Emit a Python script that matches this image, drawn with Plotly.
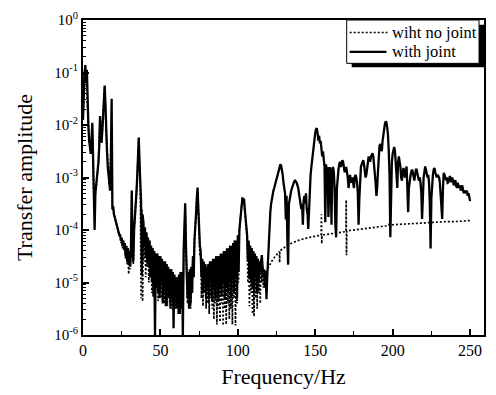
import plotly.graph_objects as go

# ---------------- data (log10 of transfer amplitude) -------------
# "with joint": sampled every 0.5 Hz from 0 to 250 Hz
freq_joint = [i * 0.5 for i in range(501)]
logamp_joint = [
    -1.9, -1.3, -1.0, -0.86, -1.2, -0.95, -1.8, -2.05, -2.3, -2.45,      # 0-4.5
    -2.55, -2.3, -1.96, -2.6, -3.5, -4.0, -3.3, -3.15, -3.05, -2.9,      # 5-9.5
    -2.7, -2.4, -1.83, -2.2, -2.33, -2.1, -1.8, -1.5, -1.25, -1.6,       # 10-14.5
    -2.2, -2.5, -2.8, -3.0, -3.15, -3.25, -2.6, -1.5, -3.6, -3.55,       # 15-19.5
    -3.7, -3.75, -3.85, -3.9, -3.95, -4.0, -4.05, -4.1, -4.1, -4.2,      # 20-24.5
    -4.15, -4.3, -4.2, -4.35, -4.25, -4.5, -4.3, -4.6, -4.35, -4.66,     # 25-29.5
    -4.4, -4.7, -4.3, -3.25, -4.4, -4.6, -4.0, -3.8, -3.6, -3.3,         # 30-34.5
    -3.0, -2.6, -2.24, -2.7, -3.2, -3.45, -4.84, -3.7, -3.85, -4.3,      # 35-39.5
    -3.95, -4.5, -4.05, -4.6, -4.15, -4.7, -4.2, -4.9, -4.3, -5.0,       # 40-44.5
    -4.35, -5.27, -4.4, -6.0, -4.45, -5.1, -4.45, -5.2, -4.5, -5.3,      # 45-49.5
    -4.5, -5.0, -4.55, -5.4, -4.6, -5.2, -4.6, -5.45, -4.65, -5.1,       # 50-54.5
    -4.7, -5.3, -4.75, -5.5, -4.75, -5.2, -4.8, -5.87, -4.85, -5.3,      # 55-59.5
    -4.9, -5.5, -4.9, -5.35, -4.85, -5.6, -4.8, -5.3, -4.8, -6.0,        # 60-64.5
    -4.4, -3.8, -3.49, -4.3, -4.7, -5.3, -4.8, -5.5, -4.75, -5.4,        # 65-69.5
    -4.7, -5.2, -4.5, -4.9, -4.2, -4.0, -3.7, -3.4, -3.19, -3.6,         # 70-74.5
    -4.0, -4.3, -4.4, -4.9, -4.55, -5.2, -4.6, -5.0, -4.65, -5.3,        # 75-79.5
    -4.7, -5.1, -4.65, -5.3, -4.6, -5.0, -4.6, -5.35, -4.55, -5.1,       # 80-84.5
    -4.55, -5.3, -4.5, -5.0, -4.5, -5.35, -4.5, -5.1, -4.45, -5.25,      # 85-89.5
    -4.45, -5.0, -4.4, -5.3, -4.4, -5.1, -4.35, -5.2, -4.35, -5.0,       # 90-94.5
    -4.3, -5.3, -4.3, -4.9, -4.25, -5.2, -4.2, -4.9, -4.2, -5.3,         # 95-99.5
    -4.1, -4.8, -4.0, -3.8, -3.6, -3.45, -3.38, -3.5, -3.4, -3.6,        # 100-104.5
    -3.8, -4.0, -4.1, -4.6, -4.2, -4.9, -4.3, -5.0, -4.35, -5.1,         # 105-109.5
    -4.4, -5.2, -4.45, -4.9, -4.5, -5.2, -4.55, -5.0, -4.6, -4.8,        # 110-114.5
    -4.5, -4.48, -4.7, -4.9, -4.75, -5.1, -4.8, -5.32, -4.9, -4.5,       # 115-119.5
    -4.22, -3.9, -3.65, -3.5, -3.38, -3.3, -3.25, -3.2, -3.15, -3.1,     # 120-124.5
    -3.05, -3.0, -2.95, -2.85, -2.8, -2.75, -2.78, -2.85, -2.95, -3.1,   # 125-129.5
    -3.2, -3.3, -3.8, -3.35, -4.2, -4.66, -3.5, -3.4, -3.3, -3.25,       # 130-134.5
    -3.2, -3.15, -3.1, -3.07, -3.06, -3.08, -3.1, -3.15, -3.2, -3.3,     # 135-139.5
    -3.4, -3.5, -3.6, -3.5, -3.9, -3.45, -3.35, -3.5, -3.3, -3.6,        # 140-144.5
    -3.7, -3.98, -3.5, -3.1, -2.95, -2.8, -2.65, -2.5, -2.4, -2.3,       # 145-149.5
    -2.15, -2.08, -2.06, -2.15, -2.3, -2.2, -2.35, -2.3, -2.45, -2.6,    # 150-154.5
    -2.5, -2.75, -2.8, -3.85, -2.75, -3.0, -2.8, -3.75, -2.9, -2.8,      # 155-159.5
    -3.0, -3.9, -2.85, -2.8, -2.9, -3.2, -3.9, -4.14, -3.2, -2.9,        # 160-164.5
    -2.85, -2.75, -2.7, -2.8, -2.75, -2.67, -2.7, -2.8, -2.9, -2.85,     # 165-169.5
    -2.8, -2.9, -3.0, -3.2, -3.0, -2.95, -3.1, -3.05, -3.0, -3.1,        # 170-174.5
    -3.2, -3.0, -2.95, -3.0, -3.1, -3.3, -3.9, -3.4, -2.9, -2.8,         # 175-179.5
    -2.75, -2.7, -2.67, -2.75, -2.9, -3.0, -2.95, -2.8, -2.65, -2.6,     # 180-184.5
    -2.65, -2.7, -2.6, -2.55, -2.54, -2.6, -2.75, -2.9, -3.1, -3.35,     # 185-189.5
    -3.2, -2.9, -2.6, -2.4, -2.36, -2.45, -2.5, -2.3, -2.15, -2.05,      # 190-194.5
    -1.98, -1.93, -1.95, -2.05, -2.2, -2.5, -2.97, -4.14, -3.2, -2.7,    # 195-199.5
    -2.55, -2.45, -2.42, -2.5, -2.7, -2.9, -3.2, -2.7, -2.6, -2.7,       # 200-204.5
    -2.8, -3.0, -3.06, -2.9, -2.82, -2.9, -3.0, -2.9, -2.79, -3.2,       # 205-209.5
    -3.66, -3.2, -3.0, -2.97, -2.9, -2.85, -2.9, -3.0, -3.06, -2.95,     # 210-214.5
    -2.85, -2.85, -2.9, -3.0, -3.06, -3.0, -3.1, -3.3, -3.79, -3.2,      # 215-219.5
    -3.0, -2.9, -2.79, -2.85, -2.95, -3.0, -2.95, -3.1, -3.5, -4.35,     # 220-224.5
    -3.4, -3.06, -2.95, -2.85, -2.82, -2.9, -2.97, -3.0, -2.95, -2.97,   # 225-229.5
    -3.0, -3.1, -3.3, -3.5, -3.79, -3.2, -2.91, -2.95, -3.0, -3.05,      # 230-234.5
    -3.0, -3.1, -3.09, -3.0, -2.97, -3.05, -3.09, -3.0, -3.06, -3.15,    # 235-239.5
    -3.1, -3.05, -3.15, -3.2, -3.1, -3.15, -3.2, -3.15, -3.25, -3.2,     # 240-244.5
    -3.15, -3.25, -3.3, -3.25, -3.3, -3.3, -3.25, -3.35, -3.3, -3.37,    # 245-249.5
    -3.45,                                                               # 250
]

# "wiht no joint": low range (0-20 Hz every 1 Hz), noisy range (20.5-118 Hz every 0.5 Hz),
# then the smooth rising part with its few spikes
freq_nojoint_low = [float(f) for f in range(0, 21)]
logamp_nojoint_low = [-1.9, -1.0, -1.1, -1.85, -2.3, -2.55, -2.0, -3.4, -3.3, -3.05, -2.7,
                      -1.85, -2.35, -1.8, -1.27, -2.2, -2.8, -3.15, -2.6, -3.6, -3.7]

freq_nojoint_mid = [20.5 + i * 0.5 for i in range(196)]
logamp_nojoint_mid = [
    -3.75, -3.85, -3.9, -3.95, -4.0, -4.05, -4.1, -4.1, -4.25,                 # 20.5-24.5
    -4.15, -4.35, -4.2, -4.4, -4.25, -4.55, -4.3, -4.65, -4.35, -4.84,         # 25-29.5
    -4.4, -4.75, -4.3, -3.3, -4.4, -4.65, -4.0, -3.8, -3.6, -3.3,              # 30-34.5
    -3.0, -2.6, -2.3, -2.7, -3.2, -5.3, -3.6, -5.36, -3.85, -4.6,              # 35-39.5
    -3.95, -4.9, -4.05, -4.7, -4.15, -5.0, -4.2, -4.8, -4.3, -5.2,             # 40-44.5
    -4.35, -4.9, -4.4, -5.3, -4.45, -5.0, -4.45, -5.35, -4.5, -5.1,            # 45-49.5
    -4.5, -5.3, -4.55, -5.1, -4.6, -5.4, -4.6, -5.2, -4.65, -5.45,             # 50-54.5
    -4.7, -5.2, -4.75, -5.4, -4.75, -5.5, -4.8, -5.3, -4.85, -5.5,             # 55-59.5
    -4.9, -5.3, -4.9, -5.6, -4.85, -5.3, -4.8, -5.5, -4.8, -5.2,               # 60-64.5
    -4.4, -3.8, -3.55, -4.3, -4.7, -5.4, -4.8, -5.3, -4.75, -5.5,              # 65-69.5
    -4.7, -5.0, -4.5, -4.9, -4.2, -4.0, -3.7, -3.4, -3.25, -3.6,               # 70-74.5
    -4.0, -4.5, -4.4, -5.3, -4.55, -5.45, -4.6, -5.2, -4.65, -5.5,             # 75-79.5
    -4.7, -5.4, -4.65, -5.6, -4.6, -5.3, -4.6, -5.5, -4.55, -5.7,              # 80-84.5
    -4.55, -5.4, -4.5, -5.8, -4.5, -5.5, -4.5, -5.75, -4.45, -5.4,             # 85-89.5
    -4.45, -5.82, -4.4, -5.5, -4.4, -5.8, -4.35, -5.4, -4.35, -5.7,            # 90-94.5
    -4.3, -5.5, -4.3, -5.8, -4.25, -5.3, -4.2, -5.82, -4.2, -5.4,              # 95-99.5
    -4.1, -5.0, -4.0, -3.8, -3.6, -3.5, -3.4, -3.5, -3.45, -3.65,              # 100-104.5
    -3.85, -4.1, -4.15, -5.0, -4.25, -5.45, -4.3, -5.2, -4.35, -5.6,           # 105-109.5
    -4.4, -5.65, -4.45, -5.3, -4.5, -5.5, -4.55, -5.2, -4.6, -5.4,             # 110-114.5
    -4.55, -5.0, -4.7, -5.1, -4.75, -4.9, -4.8,                                # 115-118
]

freq_nojoint_high = [119, 120, 121, 122, 124, 126, 126.8, 127, 127.2, 128, 130, 132, 134,
                     136, 138, 140, 142, 144, 146, 148, 150, 152, 153.8, 154, 154.2, 154.4,
                     156, 158, 160, 162, 164, 166, 168, 169.8, 170, 170.2, 170.4, 172, 175,
                     178, 181, 184, 187, 190, 193, 196, 197.6, 197.8, 198, 200, 205, 210,
                     215, 220, 225, 230, 235, 240, 245, 250]
logamp_nojoint_high = [-4.76, -4.7, -4.64, -4.59, -4.51, -4.44, -4.41, -4.62, -4.4, -4.38,
                       -4.33, -4.29, -4.26, -4.23, -4.21, -4.19, -4.17, -4.15, -4.14, -4.13,
                       -4.12, -4.11, -4.1, -3.7, -4.26, -4.1, -4.09, -4.08, -4.07, -4.06,
                       -4.05, -4.04, -4.03, -4.03, -3.43, -4.48, -4.02, -4.01, -4.0, -3.98,
                       -3.97, -3.96, -3.95, -3.94, -3.93, -3.92, -3.91, -3.86, -3.91, -3.9,
                       -3.89, -3.88, -3.87, -3.86, -3.85, -3.85, -3.84, -3.84, -3.83, -3.82]

legend_names = ["wiht no joint", "with joint"]

x_ticks = [0, 50, 100, 150, 200, 250]
y_tick_exps = [-6, -5, -4, -3, -2, -1, 0]

# ---------------- figure -------------------------------------------------------------------
freq_nojoint = freq_nojoint_low + freq_nojoint_mid + freq_nojoint_high
logamp_nojoint = logamp_nojoint_low + logamp_nojoint_mid + logamp_nojoint_high

amp_joint = [10 ** v for v in logamp_joint]
amp_nojoint = [10 ** v for v in logamp_nojoint]

FONT = "Liberation Serif"
DOT = "2px,2px"
W, H = 496, 395
ML, MR, MT, MB = 83, 10, 15, 53
PW, PH = W - ML - MR, H - MT - MB


def px(xp):
    return (xp - ML) / PW


def py(yp):
    return (H - MB - yp) / PH


fig = go.Figure()
fig.add_trace(go.Scatter(x=freq_nojoint, y=amp_nojoint, mode="lines", name=legend_names[0],
                         line=dict(color="black", width=1.7, dash=DOT), showlegend=False))
fig.add_trace(go.Scatter(x=freq_joint, y=amp_joint, mode="lines", name=legend_names[1],
                         line=dict(color="black", width=2.3), showlegend=False))

minor_y = [k * 10 ** e for e in y_tick_exps[:-1] for k in range(2, 10)]

fig.update_xaxes(range=[0, 259], tickvals=x_ticks, ticktext=[str(t) for t in x_ticks],
                 ticks="inside", ticklen=6, tickwidth=1.5, tickcolor="black",
                 minor=dict(tickvals=[25, 75, 125, 175, 225], ticks="inside", ticklen=4,
                            tickwidth=1.2, tickcolor="black"),
                 showline=True, linewidth=2, linecolor="black", mirror=True,
                 showgrid=False, zeroline=False,
                 tickfont=dict(family=FONT, size=16, color="black"),
                 title=dict(text="Frequency/Hz", font=dict(family=FONT, size=22, color="black"),
                            standoff=10))
fig.update_yaxes(type="log", range=[-6, 0],
                 tickvals=[10 ** e for e in y_tick_exps],
                 ticktext=["10<sup>%d</sup>" % e for e in y_tick_exps],
                 ticks="inside", ticklen=6, tickwidth=1.5, tickcolor="black",
                 minor=dict(tickvals=minor_y, ticks="inside", ticklen=3, tickwidth=1,
                            tickcolor="black"),
                 showline=True, linewidth=2, linecolor="black", mirror=True,
                 showgrid=False, zeroline=False,
                 tickfont=dict(family=FONT, size=15, color="black"),
                 title=dict(text="Transfer amplitude", font=dict(family=FONT, size=22, color="black"),
                            standoff=16))

# legend (box with drop shadow, line samples and labels)
fig.add_shape(type="rect", xref="paper", yref="paper", x0=px(353), x1=px(486), y0=py(64), y1=py(20),
              fillcolor="black", line=dict(width=0), layer="above")
fig.add_shape(type="rect", xref="paper", yref="paper", x0=px(348), x1=px(481), y0=py(60), y1=py(15),
              fillcolor="white", line=dict(color="black", width=1), layer="above")
fig.add_shape(type="line", xref="paper", yref="paper", x0=px(351), x1=px(389), y0=py(28), y1=py(28),
              line=dict(color="black", width=1.7, dash=DOT), layer="above")
fig.add_shape(type="line", xref="paper", yref="paper", x0=px(351), x1=px(388), y0=py(48), y1=py(48),
              line=dict(color="black", width=2.3), layer="above")
for name, yy in zip(legend_names, [28, 48]):
    fig.add_annotation(x=px(392), y=py(yy), xref="paper", yref="paper", text=name,
                       showarrow=False, xanchor="left", yanchor="middle",
                       font=dict(family=FONT, size=16.5, color="black"))

fig.update_layout(
    width=W, height=H,
    margin=dict(l=ML, r=MR, t=MT, b=MB),
    paper_bgcolor="white", plot_bgcolor="white",
    font=dict(family=FONT, color="black"),
    showlegend=False,
)

fig.write_html("out.html")
